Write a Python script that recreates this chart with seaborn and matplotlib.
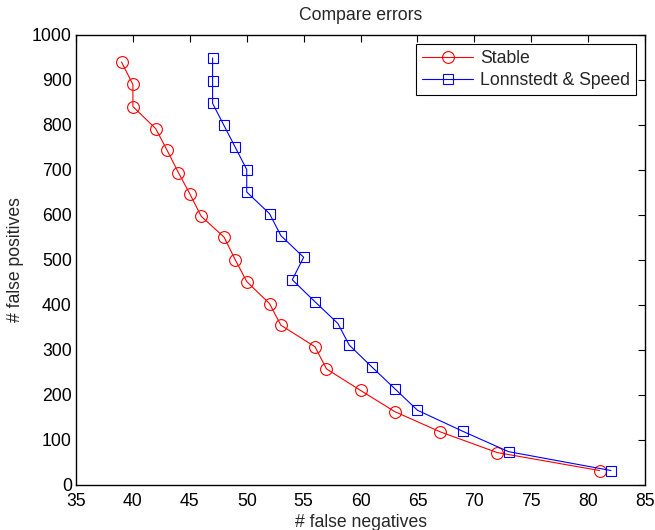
import matplotlib
matplotlib.use("Agg")
import matplotlib.pyplot as plt
import seaborn as sns
import pandas as pd

# False negatives / false positives for each method
stable_fn = [39, 40, 40, 42, 43, 44, 45, 46, 48, 49, 50, 52, 53, 56, 57, 60, 63, 67, 72, 81]
stable_fp = [940, 890, 841, 792, 744, 694, 647, 597, 551, 500, 452, 403, 355, 307, 258, 210, 163, 118, 72, 32]

ls_fn = [47, 47, 47, 48, 49, 50, 50, 52, 53, 55, 54, 56, 58, 59, 61, 63, 65, 69, 73, 82]
ls_fp = [949, 898, 848, 799, 750, 701, 651, 603, 554, 506, 456, 407, 359, 311, 262, 214, 166, 119, 74, 32]

x_ticks = [35, 40, 45, 50, 55, 60, 65, 70, 75, 80, 85]
y_ticks = [0, 100, 200, 300, 400, 500, 600, 700, 800, 900, 1000]

sns.set_style("white")
plt.rcParams["font.family"] = ["Liberation Sans", "DejaVu Sans"]
FS = 12.7
plt.rcParams["font.size"] = FS

stable = pd.DataFrame({"fn": stable_fn, "fp": stable_fp})
ls = pd.DataFrame({"fn": ls_fn, "fp": ls_fp})

fig = plt.figure(figsize=(6.55, 5.3), dpi=100)
ax = fig.add_axes([0.116, 0.085, 0.869, 0.849])

sns.lineplot(data=stable, x="fn", y="fp", sort=False, estimator=None, ax=ax,
             color="#ff0000", linewidth=0.8, marker="o", markersize=8.5,
             markerfacecolor="none", markeredgecolor="#ff0000",
             markeredgewidth=0.8, label="Stable")
sns.lineplot(data=ls, x="fn", y="fp", sort=False, estimator=None, ax=ax,
             color="#0000ff", linewidth=0.8, marker="s", markersize=7,
             markerfacecolor="none", markeredgecolor="#0000ff",
             markeredgewidth=0.8, label="Lonnstedt & Speed")

ax.set_xlim(35, 85)
ax.set_ylim(0, 1000)
ax.set_xticks(x_ticks)
ax.set_yticks(y_ticks)
ax.tick_params(direction="in", length=5, width=0.8, top=True, right=True,
               labelsize=FS, colors="black")
ax.tick_params(axis="x", pad=6)
ax.tick_params(axis="y", pad=3)
for s in ax.spines.values():
    s.set_visible(True)
    s.set_color("black")
    s.set_linewidth(1.0)

ax.set_title("Compare errors", fontsize=FS, pad=11)
ax.set_xlabel("# false negatives", fontsize=FS, labelpad=3)
ax.set_ylabel("# false positives", fontsize=FS, labelpad=6)

leg = ax.legend(loc="upper right", fontsize=FS, frameon=True, fancybox=False,
                handlelength=2.9, borderpad=0.35, labelspacing=0.3,
                borderaxespad=0.5, handletextpad=0.4, framealpha=1)
leg.get_frame().set_edgecolor("black")
leg.get_frame().set_linewidth(0.8)

fig.savefig("out.png", dpi=100)
